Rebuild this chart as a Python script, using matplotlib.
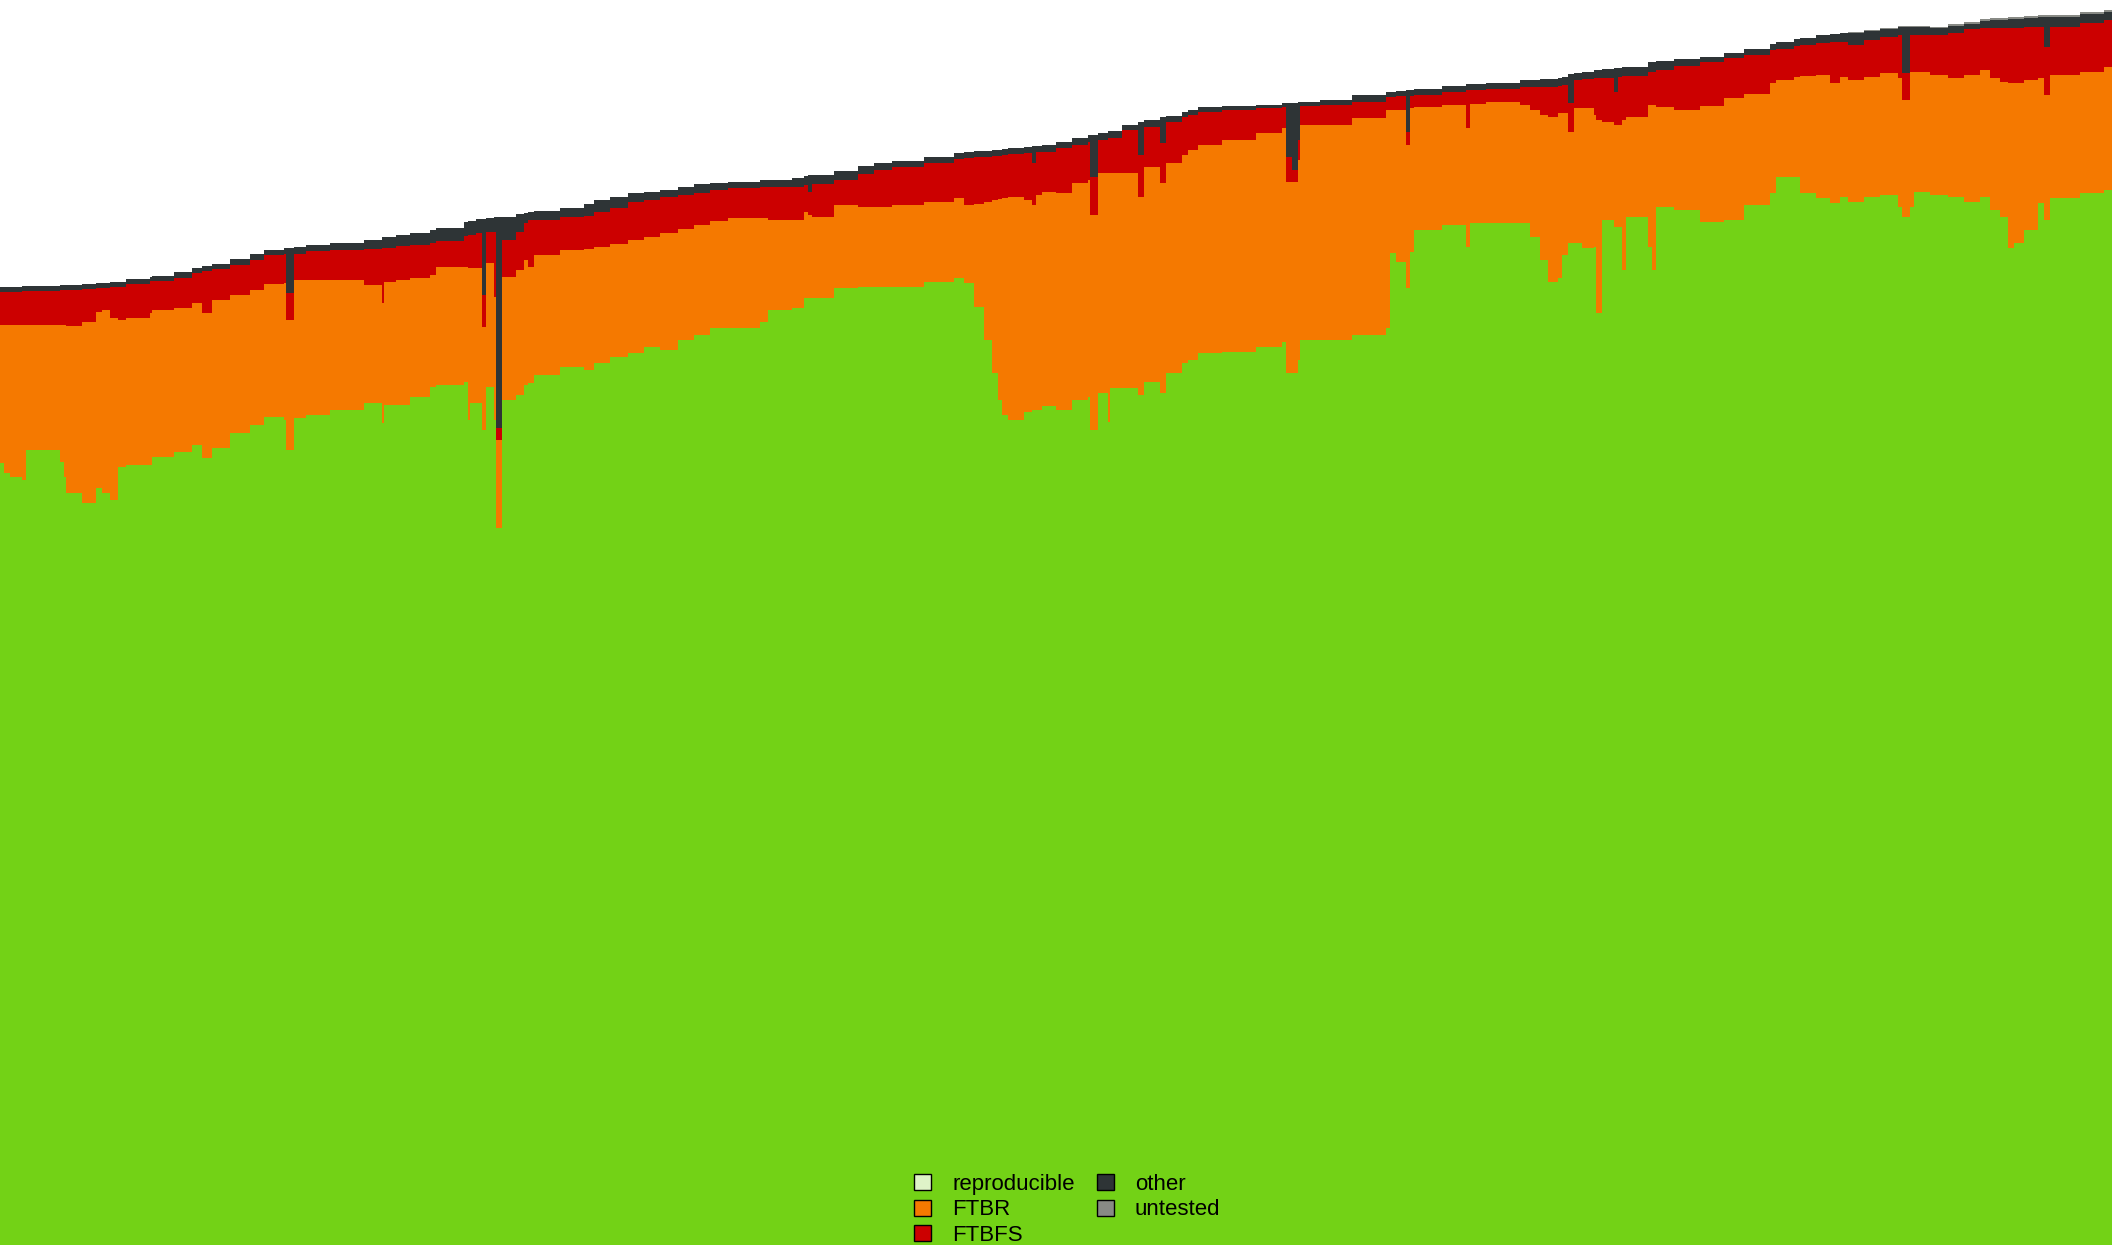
import numpy as np
import matplotlib.pyplot as plt
from matplotlib.patches import Patch

plt.rcParams['font.family'] = ['Liberation Sans', 'DejaVu Sans']

# day index of each status sample (held until the next sample)
days = [0, 2, 5, 11, 13, 30, 32, 33, 41, 48,
        51, 55, 59, 63, 75, 76, 87, 96, 101, 106,
        115, 125, 132, 142, 143, 147, 153, 165, 182, 191,
        192, 198, 205, 215, 218, 232, 234, 235, 238, 241,
        243, 247, 248, 251, 258, 262, 264, 267, 280, 292,
        297, 305, 314, 322, 330, 339, 347, 355, 364, 380,
        384, 396, 402, 404, 406, 417, 429, 437, 446, 462,
        477, 482, 487, 492, 496, 499, 501, 504, 512, 516, 518, 521,
        528, 536, 544, 545, 549, 554, 555, 561, 569, 572,
        580, 583, 591, 594, 599, 611, 628, 641, 643, 646,
        649, 650, 660, 676, 693, 695, 698, 703, 705, 707,
        721, 733, 735, 743, 760, 765, 770, 774, 779, 781,
        784, 787, 791, 797, 798, 801, 807, 809, 811, 813,
        824, 826, 828, 837, 850, 862, 872, 885, 888, 897,
        900, 908, 915, 920, 924, 932, 940, 949, 951, 955,
        957, 965, 974, 982, 990, 995, 1000, 1004, 1007, 1012,
        1019, 1022, 1025, 1040, 1052]
last_day = 1056

reproducible = [15640, 15440, 15360, 15300, 15900, 15660, 15360, 15040, 14840, 15140,
                15040, 14900, 15560, 15600, 15600, 15760, 15860, 16000, 15740, 15940,
                16240, 16400, 16560, 16500, 15900, 16540, 16600, 16700, 16840, 16440,
                16800, 16800, 16960, 17160, 17200, 17260, 16500, 16840, 16840, 16300,
                17160, 16500, 14340, 16900, 17000, 17200, 17240, 17400, 17560, 17500,
                17640, 17760, 17840, 17960, 17900, 18100, 18200, 18340, 18340, 18460,
                18700, 18740, 18940, 18940, 18940, 19140, 19160, 19160, 19160, 19260,
                19340, 19240, 18760, 18100, 17440, 16900, 16600, 16500, 16660, 16700, 16700, 16780,
                16700, 16900, 16960, 16300, 17040, 16460, 17140, 17140, 17000, 17260,
                17040, 17440, 17640, 17700, 17840, 17860, 17960, 18060, 17440, 17440,
                17700, 18100, 18100, 18200, 18340, 19840, 19660, 19140, 19860, 20300,
                20400, 19960, 20440, 20440, 20440, 20160, 19700, 19260, 19340, 19800,
                20040, 20040, 19940, 19960, 18640, 20500, 20360, 20360, 19500, 20560,
                19960, 19500, 20760, 20700, 20460, 20500, 20800, 21040, 21360, 21360,
                21040, 20940, 20840, 20960, 20860, 20960, 21000, 20760, 20560, 20760,
                21060, 21000, 20960, 20860, 20960, 20700, 20560, 19940, 20040, 20300,
                20840, 20500, 20940, 21040, 21100]

ftbr = [2760, 2960, 3040, 3100, 2500, 2740, 3040, 3340, 3620, 3520,
        3660, 3640, 2940, 2940, 3040, 2940, 2880, 2840, 2900, 2960,
        2760, 2700, 2660, 2740, 2600, 2760, 2700, 2600, 2360, 2400,
        2460, 2500, 2380, 2240, 2360, 2300, 3040, 2700, 2700, 2060,
        2480, 2460, 1760, 2460, 2500, 2500, 2320, 2400, 2340, 2420,
        2320, 2260, 2260, 2200, 2340, 2220, 2200, 2140, 2200, 2080,
        1800, 1760, 1720, 1660, 1620, 1660, 1600, 1600, 1640, 1600,
        1600, 1560, 2060, 2760, 3460, 4020, 4340, 4460, 4240, 4100, 4300, 4280,
        4340, 4340, 4340, 4300, 4400, 4980, 4300, 4300, 3960, 4300,
        4200, 4200, 4160, 4200, 4160, 4240, 4280, 4280, 3820, 3820,
        4000, 4300, 4300, 4340, 4360, 2860, 3040, 2860, 2880, 2460,
        2400, 2380, 2380, 2420, 2360, 2540, 2900, 3300, 3300, 2840,
        2220, 2700, 2800, 2640, 3860, 1960, 2040, 2040, 3000, 2000,
        2840, 3300, 2000, 2000, 2320, 2440, 2220, 2200, 1940, 2000,
        2340, 2460, 2400, 2400, 2440, 2400, 2440, 2580, 2340, 2700,
        2400, 2400, 2380, 2540, 2540, 2640, 2700, 3300, 3200, 3000,
        2500, 2500, 2460, 2420, 2460]

ftbfs = [660, 660, 660, 680, 680, 700, 700, 720, 660, 480,
         440, 620, 660, 680, 640, 580, 600, 600, 840, 620,
         600, 600, 580, 580, 540, 520, 580, 600, 720, 1100,
         680, 680, 660, 640, 520, 620, 660, 660, 700, 640,
         620, 1300, 240, 740, 760, 740, 940, 700, 660, 660,
         700, 720, 760, 740, 720, 680, 640, 620, 600, 620,
         660, 660, 540, 460, 660, 500, 660, 740, 760, 780,
         780, 940, 940, 900, 880, 860, 860, 860, 940, 840, 860, 800,
         900, 760, 760, 760, 660, 700, 700, 860, 840, 800,
         800, 820, 760, 700, 660, 600, 500, 420, 500, 240,
         400, 380, 400, 320, 260, 260, 280, 260, 240, 240,
         260, 760, 280, 260, 360, 460, 560, 600, 540, 560,
         580, 560, 580, 740, 840, 880, 660, 960, 880, 820,
         660, 660, 740, 880, 880, 800, 780, 660, 620, 620,
         620, 640, 820, 700, 700, 740, 720, 860, 540, 740,
         740, 800, 900, 920, 840, 1000, 1080, 1100, 1100, 1060,
         1020, 960, 960, 980, 940]

other = [100, 100, 100, 100, 100, 100, 100, 100, 100, 100,
         100, 100, 100, 100, 80, 100, 120, 100, 100, 100,
         120, 120, 100, 120, 900, 140, 120, 140, 180, 220,
         220, 220, 240, 260, 260, 280, 280, 280, 280, 1520,
         280, 300, 4220, 460, 360, 200, 160, 180, 180, 240,
         240, 220, 180, 160, 140, 160, 180, 140, 120, 140,
         140, 180, 180, 340, 180, 180, 160, 140, 120, 120,
         120, 120, 120, 120, 120, 120, 120, 120, 120, 340, 120, 140,
         120, 140, 140, 840, 140, 140, 140, 100, 660, 140,
         520, 120, 100, 100, 100, 80, 60, 80, 1080, 1340,
         760, 80, 100, 140, 100, 100, 100, 840, 120, 120,
         120, 120, 120, 120, 140, 140, 160, 160, 160, 160,
         580, 140, 140, 160, 160, 180, 480, 180, 180, 180,
         200, 200, 180, 140, 100, 100, 120, 120, 140, 140,
         140, 160, 160, 180, 240, 180, 160, 160, 920, 160,
         160, 140, 140, 100, 140, 160, 160, 180, 180, 180,
         200, 600, 200, 180, 160]

untested = [0] * 146 + [20, 20, 20, 20, 20, 20, 20, 20,
                        40, 40, 40, 40, 40, 40, 40, 40, 40, 40, 40, 40, 40]

labels = ['reproducible', 'FTBR', 'FTBFS', 'other', 'untested']
colors = ['#73d216', '#f57900', '#cc0000', '#2e3436', '#888a85']

x = np.array(days + [last_day])
stack = np.cumsum(np.array([reproducible, ftbr, ftbfs, other, untested]), axis=0)
stack = np.hstack([stack, stack[:, -1:]])

fig = plt.figure(figsize=(21.12, 12.45), dpi=100)
ax = fig.add_axes([0, 0, 1, 1])

# paint totals from the top layer down so neighbouring bands leave no seams
for top, c in reversed(list(zip(stack, colors))):
    ax.fill_between(x, 0, top, step='post', color=c, linewidth=0)

ax.set_xlim(0, last_day)
ax.set_ylim(0, 24900)
ax.axis('off')

handles = [Patch(facecolor=c, edgecolor='black', linewidth=1) for c in colors]
handles[0] = Patch(facecolor='#dff3c8', edgecolor='black', linewidth=1)
fig.legend(handles, labels, loc='upper left', bbox_to_anchor=(0.433, 0.057),
           ncol=2, frameon=False, fontsize=16, handlelength=0.75, handleheight=0.75,
           handletextpad=0.95, labelspacing=0.2, columnspacing=1.0,
           borderpad=0, borderaxespad=0)

fig.savefig('out.png', dpi=100)
